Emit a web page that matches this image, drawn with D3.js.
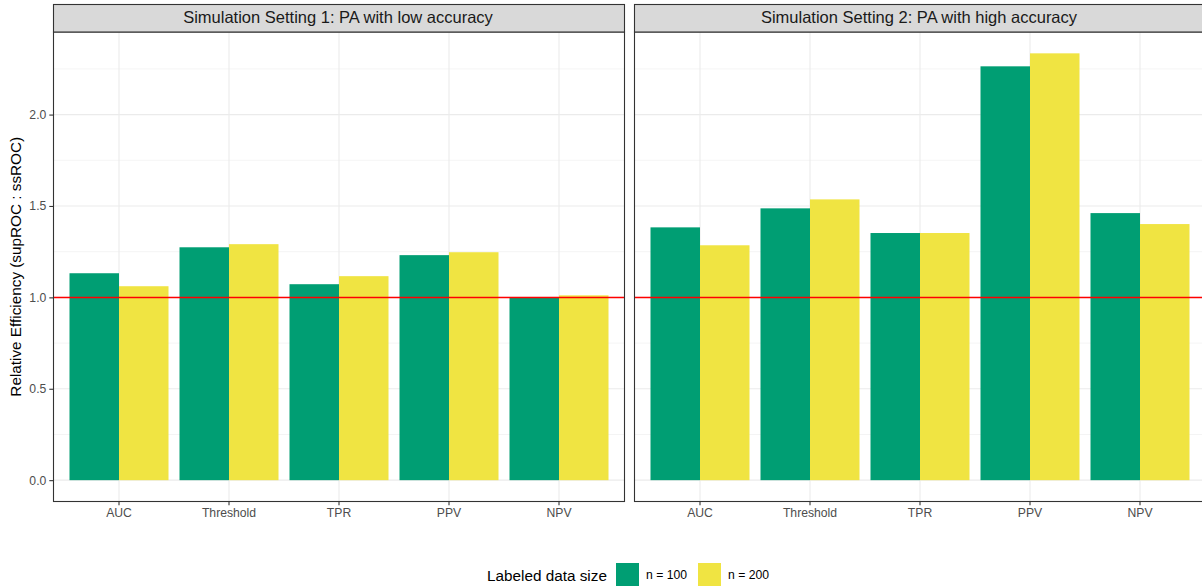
<!DOCTYPE html>
<html>
<head>
<meta charset="utf-8">
<script src="https://cdn.jsdelivr.net/npm/d3@7"></script>
<style>
  html, body { margin: 0; padding: 0; background: #ffffff; }
  svg { display: block; font-family: "Liberation Sans", Arial, Helvetica, sans-serif; }
</style>
</head>
<body>
<div id="chart"></div>
<script>
const categories = ["AUC", "Threshold", "TPR", "PPV", "NPV"];
const settings = [
  "Simulation Setting 1: PA with low accuracy",
  "Simulation Setting 2: PA with high accuracy"
];
const groups = ["n = 100", "n = 200"];
// relative efficiency per setting, one array per labeled data size
const setting1N100 = [1.132, 1.274, 1.072, 1.231, 0.998];
const setting1N200 = [1.061, 1.291, 1.116, 1.247, 1.011];
const setting2N100 = [1.383, 1.487, 1.352, 2.264, 1.461];
const setting2N200 = [1.285, 1.536, 1.352, 2.335, 1.401];
const yTicks = [0, 0.5, 1, 1.5, 2];
const referenceLine = 1;

const palette = { "n = 100": "#009E73", "n = 200": "#F0E442" };

const width = 1202;
const height = 586;
const panelTop = 32;
const panelBottom = 501.5;
const stripTop = 4;
const panels = [
  { title: settings[0], left: 53, right: 625, values: [setting1N100, setting1N200] },
  { title: settings[1], left: 634, right: 1206, values: [setting2N100, setting2N200] }
];

const maxValue = d3.max(panels, (p) => d3.max(p.values, (s) => d3.max(s)));
const pad = maxValue * 0.05;
const y = d3.scaleLinear().domain([-pad, maxValue + pad]).range([panelBottom, panelTop]);
const minorTicks = d3.range(0.25, maxValue + pad, 0.5);
const tickFont = 12.2;
const titleFont = 15.3;

const svg = d3.select("#chart").append("svg").attr("width", width).attr("height", height);

panels.forEach((panel, pi) => {
  const x = d3.scaleBand().domain(categories).range([panel.left, panel.right])
    .paddingInner(0.1).paddingOuter(0.15);
  const xInner = d3.scaleBand().domain(groups).range([0, x.bandwidth()]).padding(0);
  const g = svg.append("g");

  g.append("rect")
    .attr("x", panel.left).attr("y", panelTop)
    .attr("width", panel.right - panel.left).attr("height", panelBottom - panelTop)
    .attr("fill", "#ffffff");

  // minor grid
  g.append("g").selectAll("line").data(minorTicks).join("line")
    .attr("x1", panel.left).attr("x2", panel.right)
    .attr("y1", (d) => y(d)).attr("y2", (d) => y(d))
    .attr("stroke", "#ebebeb").attr("stroke-width", 0.55);

  // major grid
  g.append("g").selectAll("line").data(yTicks).join("line")
    .attr("x1", panel.left).attr("x2", panel.right)
    .attr("y1", (d) => y(d)).attr("y2", (d) => y(d))
    .attr("stroke", "#ebebeb").attr("stroke-width", 1.1);

  g.append("g").selectAll("line").data(categories).join("line")
    .attr("x1", (d) => x(d) + x.bandwidth() / 2).attr("x2", (d) => x(d) + x.bandwidth() / 2)
    .attr("y1", panelTop).attr("y2", panelBottom)
    .attr("stroke", "#ebebeb").attr("stroke-width", 1.1);

  // bars
  const barData = [];
  categories.forEach((cat, ci) => {
    groups.forEach((grp, gi) => barData.push({ cat, grp, value: panel.values[gi][ci] }));
  });
  g.append("g").selectAll("rect").data(barData).join("rect")
    .attr("x", (d) => x(d.cat) + xInner(d.grp))
    .attr("width", xInner.bandwidth())
    .attr("y", (d) => y(d.value))
    .attr("height", (d) => y(0) - y(d.value))
    .attr("fill", (d) => palette[d.grp]);

  const refY = Math.round(y(referenceLine)) + 0.5;
  g.append("line")
    .attr("x1", panel.left).attr("x2", panel.right)
    .attr("y1", refY).attr("y2", refY)
    .attr("stroke", "#ff0000").attr("stroke-width", 1.3);

  // panel border
  g.append("rect")
    .attr("x", panel.left + 0.5).attr("y", panelTop)
    .attr("width", panel.right - panel.left - 1).attr("height", panelBottom - panelTop)
    .attr("fill", "none").attr("stroke", "#333333").attr("stroke-width", 1.1);

  // strip
  g.append("rect")
    .attr("x", panel.left + 0.5).attr("y", stripTop + 0.5)
    .attr("width", panel.right - panel.left - 1).attr("height", panelTop - stripTop - 0.5)
    .attr("fill", "#d9d9d9").attr("stroke", "#333333").attr("stroke-width", 1.1);
  g.append("text")
    .attr("x", (panel.left + panel.right) / 2 - 1)
    .attr("y", (stripTop + panelTop) / 2 + 1)
    .attr("text-anchor", "middle").attr("dominant-baseline", "middle")
    .attr("font-size", 16.5).attr("fill", "#1a1a1a")
    .text(panel.title);

  // x axis
  g.append("g")
    .attr("transform", `translate(0,${panelBottom})`)
    .call(d3.axisBottom(x).tickSize(3.7).tickSizeOuter(0).tickPadding(3))
    .call((a) => a.select(".domain").remove())
    .call((a) => a.selectAll("line").attr("stroke", "#333333").attr("stroke-width", 1.1))
    .call((a) => a.selectAll("text").attr("fill", "#4d4d4d").attr("font-size", tickFont)
      .attr("font-family", "Liberation Sans, Arial, sans-serif"));

  if (pi === 0) {
    g.append("g")
      .attr("transform", `translate(${panel.left},0)`)
      .call(d3.axisLeft(y).tickValues(yTicks).tickFormat(d3.format(".1f")).tickSize(3.7).tickPadding(3))
      .call((a) => a.select(".domain").remove())
      .call((a) => a.selectAll("line").attr("stroke", "#333333").attr("stroke-width", 1.1))
      .call((a) => a.selectAll("text").attr("fill", "#4d4d4d").attr("font-size", tickFont)
        .attr("font-family", "Liberation Sans, Arial, sans-serif"));
  }
});

svg.append("text")
  .attr("transform", `translate(21 ${(panelTop + panelBottom) / 2}) rotate(-90)`)
  .attr("text-anchor", "middle")
  .attr("font-size", titleFont).attr("fill", "#000000")
  .text("Relative Efficiency (supROC : ssROC)");

// legend
const legend = svg.append("g").attr("transform", "translate(0,575)");
legend.append("text")
  .attr("x", 487).attr("y", 0).attr("dominant-baseline", "central")
  .attr("font-size", titleFont).attr("fill", "#000000")
  .text("Labeled data size");
const keyX = [616, 698];
groups.forEach((grp, i) => {
  legend.append("rect")
    .attr("x", keyX[i]).attr("y", -12).attr("width", 23).attr("height", 23)
    .attr("fill", palette[grp]);
  legend.append("text")
    .attr("x", keyX[i] + 30).attr("y", 0).attr("dominant-baseline", "central")
    .attr("font-size", tickFont).attr("fill", "#000000")
    .text(grp);
});
</script>
</body>
</html>
